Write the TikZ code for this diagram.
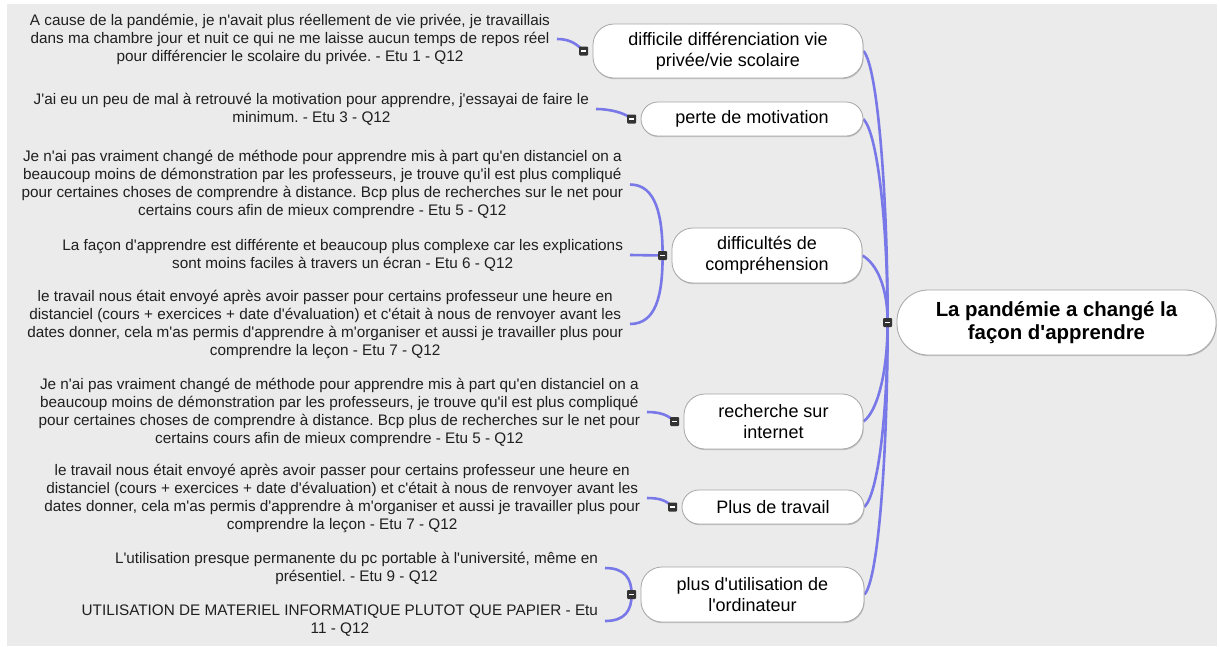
\documentclass[tikz,border=0pt]{standalone}
\usepackage{fontspec}
\setmainfont{Liberation Sans}[Ligatures=TeXOff]
\usetikzlibrary{shadows, backgrounds}
\definecolor{bggray}{HTML}{EBEBEB}
\definecolor{branchblue}{HTML}{7878E8}
\definecolor{togglegray}{HTML}{333333}
\newcommand\minusbar{\rule{5pt}{1.4pt}}
\frenchspacing

\begin{document}
\begin{tikzpicture}[x=1pt, y=-1pt,
  leaf/.style={anchor=east, align=center, inner sep=0pt, outer xsep=7pt, text=black!88, font=\fontsize{15.3}{18}\selectfont},
  topic/.style={draw=black!35, line width=0.8pt, fill=white, align=center, inner sep=0pt,
    rounded corners=17pt, font=\fontsize{18}{21}\selectfont,
    drop shadow={shadow xshift=0.6pt, shadow yshift=-1.2pt, fill=black!40, opacity=0.5}},
  twoline/.style={rounded corners=21pt},
  toggle/.style={fill=togglegray, rounded corners=1pt, minimum size=9pt, inner sep=0pt, text=white},
  branch/.style={draw=branchblue, line width=2.6pt}]
  \useasboundingbox (0,0) rectangle (1219,646);
  \begin{scope}[on background layer]
    \fill[bggray] (7,4) rectangle (1217,646);
  \end{scope}

  \node[topic, font=\fontsize{20.4}{23}\selectfont\bfseries, rounded corners=31pt, minimum width=319pt, minimum height=65pt] (root) at (1056.5,322.5) {La pandémie a changé la\\façon d'apprendre};
  \node[topic, twoline, minimum width=270pt, minimum height=54pt] (n1) at (728,51) {difficile différenciation vie\\privée/vie scolaire};
  \node[topic, minimum width=222pt, minimum height=34pt] (n2) at (752,119) {perte de motivation};
  \node[topic, twoline, minimum width=190pt, minimum height=55pt] (n3) at (767,255.5) {difficultés de\\compréhension};
  \node[topic, twoline, minimum width=179pt, minimum height=55pt] (n4) at (773.5,421.5) {recherche sur\\internet};
  \node[topic, minimum width=182pt, minimum height=34pt] (n5) at (773,507) {Plus de travail};
  \node[topic, twoline, minimum width=223pt, minimum height=55pt] (n6) at (752.5,594.5) {plus d'utilisation de\\l'ordinateur};

  \node[toggle] (c0) at ([xshift=-9pt]root.west) {\minusbar};
  \node[toggle] (c1) at ([xshift=-9pt]n1.west) {\minusbar};
  \node[toggle] (c2) at ([xshift=-9pt]n2.west) {\minusbar};
  \node[toggle] (c3) at ([xshift=-9pt]n3.west) {\minusbar};
  \node[toggle] (c4) at ([xshift=-9pt]n4.west) {\minusbar};
  \node[toggle] (c5) at ([xshift=-9pt]n5.west) {\minusbar};
  \node[toggle] (c6) at ([xshift=-9pt]n6.west) {\minusbar};

  \node[leaf] (t1) at (557,39) {A cause de la pandémie, je n'avait plus réellement de vie privée, je travaillais\\dans ma chambre jour et nuit ce qui ne me laisse aucun temps de repos réel\\pour différencier le scolaire du privée. - Etu 1 - Q12};
  \node[leaf] (t2) at (596,109) {J'ai eu un peu de mal à retrouvé la motivation pour apprendre, j'essayai de faire le\\minimum. - Etu 3 - Q12};
  \node[leaf] (t3) at (630,184.5) {Je n'ai pas vraiment changé de méthode pour apprendre mis à part qu'en distanciel on a\\beaucoup moins de démonstration par les professeurs, je trouve qu'il est plus compliqué\\pour certaines choses de comprendre à distance. Bcp plus de recherches sur le net pour\\certains cours afin de mieux comprendre - Etu 5 - Q12};
  \node[leaf] (t4) at (630,255) {La façon d'apprendre est différente et beaucoup plus complexe car les explications\\sont moins faciles à travers un écran - Etu 6 - Q12};
  \node[leaf] (t5) at (630,324) {le travail nous était envoyé après avoir passer pour certains professeur une heure en\\distanciel (cours + exercices + date d'évaluation) et c'était à nous de renvoyer avant les\\dates donner, cela m'as permis d'apprendre à m'organiser et aussi je travailler plus pour\\comprendre la leçon - Etu 7 - Q12};
  \node[leaf] (t6) at (647,412) {Je n'ai pas vraiment changé de méthode pour apprendre mis à part qu'en distanciel on a\\beaucoup moins de démonstration par les professeurs, je trouve qu'il est plus compliqué\\pour certaines choses de comprendre à distance. Bcp plus de recherches sur le net pour\\certains cours afin de mieux comprendre - Etu 5 - Q12};
  \node[leaf] (t7) at (647,498) {le travail nous était envoyé après avoir passer pour certains professeur une heure en\\distanciel (cours + exercices + date d'évaluation) et c'était à nous de renvoyer avant les\\dates donner, cela m'as permis d'apprendre à m'organiser et aussi je travailler plus pour\\comprendre la leçon - Etu 7 - Q12};
  \node[leaf] (t8) at (605,568) {L'utilisation presque permanente du pc portable à l'université, même en\\présentiel. - Etu 9 - Q12};
  \node[leaf] (t9) at (605,621) {UTILISATION DE MATERIEL INFORMATIQUE PLUTOT QUE PAPIER - Etu\\11 - Q12};

  \begin{scope}[on background layer]
    \draw[branch] (n1.east) .. controls +(14,14) and +(0,-130) .. (c0.center);
    \draw[branch] (n2.east) .. controls +(14,14) and +(0,-100) .. (c0.center);
    \draw[branch] (n3.east) .. controls +(14,8) and +(0,-36) .. (c0.center);
    \draw[branch] (n4.east) .. controls +(14,-10) and +(0,50) .. (c0.center);
    \draw[branch] (n5.east) .. controls +(14,-14) and +(0,90) .. (c0.center);
    \draw[branch] (n6.east) .. controls +(14,-14) and +(0,130) .. (c0.center);
    \draw[branch] (t1.east) .. controls +(14,0) and +(-6,-6) .. (c1.center);
    \draw[branch] (t2.east) .. controls +(14,0) and +(-6,-6) .. (c2.center);
    \draw[branch] (t3.east) .. controls +(26,0) and +(0,-40) .. (c3.center);
    \draw[branch] (t4.east) -- (c3.center);
    \draw[branch] (t5.east) .. controls +(26,0) and +(0,40) .. (c3.center);
    \draw[branch] (t6.east) .. controls +(14,0) and +(-6,-6) .. (c4.center);
    \draw[branch] (t7.east) .. controls +(14,0) and +(-6,-6) .. (c5.center);
    \draw[branch] (t8.east) .. controls +(20,0) and +(0,-16) .. (c6.center);
    \draw[branch] (t9.east) .. controls +(20,0) and +(0,16) .. (c6.center);
  \end{scope}
\end{tikzpicture}
\end{document}
